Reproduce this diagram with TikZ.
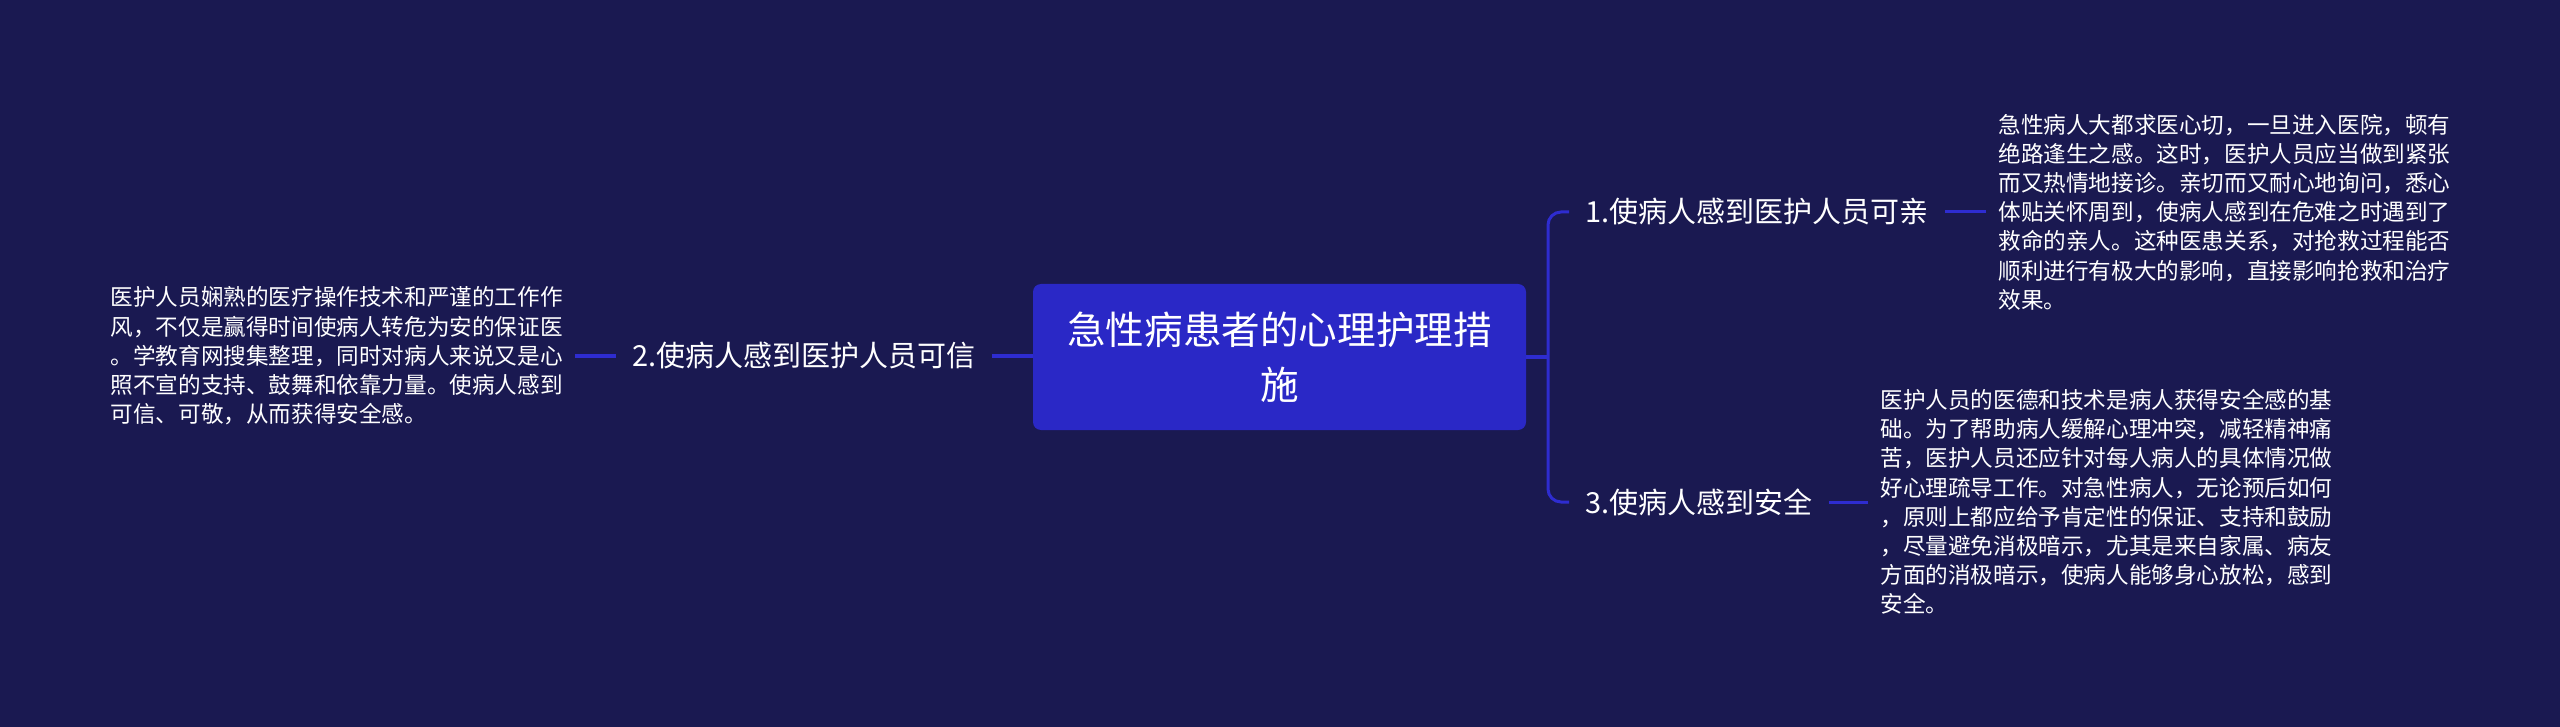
\documentclass[tikz,border=0pt]{standalone}
\usepackage{fontspec}
\setmainfont{Noto Sans CJK SC}
\definecolor{bgc}{HTML}{1A1951}
\definecolor{boxc}{HTML}{2A28C6}
\definecolor{linec}{HTML}{2E2CD0}
\begin{document}
\begin{tikzpicture}[x=0.5pt,y=-0.5pt,
  conn/.style={draw=linec,line width=1.5pt},
  rootbox/.style={fill=boxc,rounded corners=4pt,minimum width=246.5pt,minimum height=73pt,
    inner sep=0pt,align=center,text=white,font=\fontsize{19.3pt}{27.5pt}\selectfont},
  branch/.style={inner xsep=8pt,inner ysep=2pt,text=white,font=\fontsize{14.5pt}{17pt}\selectfont},
  leaf/.style={inner xsep=6pt,inner ysep=2pt,align=left,text=white,font=\fontsize{11.3pt}{14.6pt}\selectfont}]
\useasboundingbox (0,0) rectangle (2560,727);
\fill[bgc] (0,0) rectangle (2560,727);

\node[rootbox] (root) at (1279.5,357) {急性病患者的心理护理措\\施};

\node[branch,anchor=west] (b1) at (1569,212) {1.使病人感到医护人员可亲};
\node[branch,anchor=east] (b2) at (992,356) {2.使病人感到医护人员可信};
\node[branch,anchor=west] (b3) at (1569,502) {3.使病人感到安全};

\node[leaf,anchor=west] (l1) at (1986,212) {急性病人大都求医心切，一旦进入医院，顿有\\绝路逢生之感。这时，医护人员应当做到紧张\\而又热情地接诊。亲切而又耐心地询问，悉心\\体贴关怀周到，使病人感到在危难之时遇到了\\救命的亲人。这种医患关系，对抢救过程能否\\顺利进行有极大的影响，直接影响抢救和治疗\\效果。};
\node[leaf,anchor=east] (l2) at (575,356) {医护人员娴熟的医疗操作技术和严谨的工作作\\风，不仅是赢得时间使病人转危为安的保证医\\。学教育网搜集整理，同时对病人来说又是心\\照不宣的支持、鼓舞和依靠力量。使病人感到\\可信、可敬，从而获得安全感。};
\node[leaf,anchor=west] (l3) at (1868,502) {医护人员的医德和技术是病人获得安全感的基\\础。为了帮助病人缓解心理冲突，减轻精神痛\\苦，医护人员还应针对每人病人的具体情况做\\好心理疏导工作。对急性病人，无论预后如何\\，原则上都应给予肯定性的保证、支持和鼓励\\，尽量避免消极暗示，尤其是来自家属、病友\\方面的消极暗示，使病人能够身心放松，感到\\安全。};

\coordinate (fork) at (1548,357);
\draw[conn] (root.east) -- (fork);
\draw[conn,rounded corners=6.5pt] (b1.west) -| (fork) |- (b3.west);
\draw[conn] (b2.east) -- (root.west |- b2.east);
\draw[conn] (b1.east) -- (l1.west);
\draw[conn] (b3.east) -- (l3.west);
\draw[conn] (b2.west) -- (l2.east);
\end{tikzpicture}
\end{document}
